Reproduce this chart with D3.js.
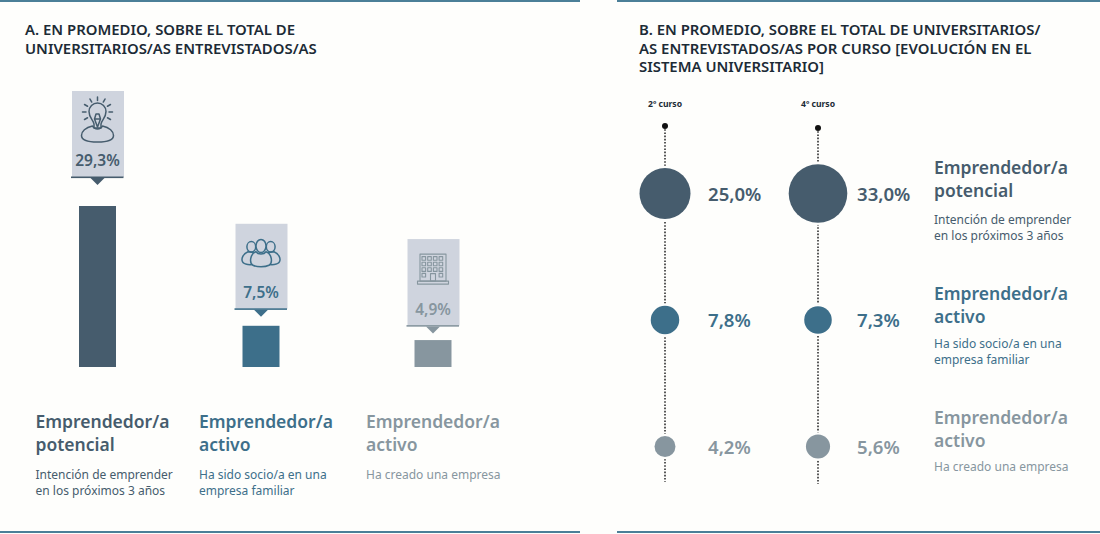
<!DOCTYPE html>
<html><head><meta charset="utf-8">
<script src="https://cdn.jsdelivr.net/npm/d3@7/dist/d3.min.js"></script>
<style>html,body{margin:0;padding:0;background:#fefefc}svg{display:block}text{font-family:"Noto Sans","Open Sans",sans-serif}</style>
</head><body><svg id="c" width="1100" height="534"></svg>
<script>
const categories=["potencial","activoFamiliar","activoEmpresa"];
const names=[["Emprendedor/a","potencial"],["Emprendedor/a","activo"],["Emprendedor/a","activo"]];
const descriptions=[["Intención de emprender","en los próximos 3 años"],["Ha sido socio/a en una","empresa familiar"],["Ha creado una empresa"]];
const totalValues=[29.3,7.5,4.9];
const courses=["2º curso","4º curso"];
const course2Values=[25.0,7.8,4.2];
const course4Values=[33.0,7.3,5.6];
const colors=["#465c6d","#3d6f8a","#87969f"];
const fmt=v=>v.toFixed(1).replace(".",",")+"%";

const svg=d3.select("#c");
const rule="#4b7f98";
const panel="#cfd4de";
[[0,580],[617,1100]].forEach(([a,b])=>{
  svg.append("rect").attr("x",a).attr("y",0).attr("width",b-a).attr("height",2).attr("fill",rule);
  svg.append("rect").attr("x",a).attr("y",531).attr("width",b-a).attr("height",2).attr("fill",rule);
});
function title(x,lines){
  lines.forEach((t,i)=>svg.append("text").attr("x",x).attr("y",35+i*18.5).attr("font-size",14.9).attr("font-weight",600).attr("fill","#1c2b36").text(t));
}
title(25,["A. EN PROMEDIO, SOBRE EL TOTAL DE","UNIVERSITARIOS/AS ENTREVISTADOS/AS"]);
title(639,["B. EN PROMEDIO, SOBRE EL TOTAL DE UNIVERSITARIOS/","AS ENTREVISTADOS/AS POR CURSO [EVOLUCIÓN EN EL","SISTEMA UNIVERSITARIO]"]);

// Panel A
const y=d3.scaleLinear().domain([0,29.3]).range([367,206]);
const x=d3.scalePoint().domain(categories).range([97.5,433]);
const xPos=c=>c===categories[1]?261:x(c);
const bw=37;
function icon(g,i,col){
  const s=g.append("g").attr("fill","none").attr("stroke",col).attr("stroke-width",1.5).attr("stroke-linejoin","round").attr("stroke-linecap","round");
  if(i===0){
    s.append("path").attr("d","M-3.5,18 L-3.5,14 C-4,10 -8.5,8 -8.5,1.5 A8.5,8.5 0 1 1 8.5,1.5 C8.5,8 4,10 3.5,14 L3.5,18 Z");
    s.append("path").attr("d","M-3,9 L-1.5,4 L1.5,4 L3,9 L0,17 Z M-3,9 H3");
    s.append("path").attr("d","M-5,16 C-12,17.5 -16,21.5 -16,25.5 C-16,30 -9,32 0,32 C9,32 16,30 16,25.5 C16,21.5 12,17.5 5,16 C3,20 -3,20 -5,16 Z");
    d3.range(-4,5).forEach(k=>{
      const a=k*30*Math.PI/180;
      const sx=Math.sin(a),cy=-Math.cos(a);
      s.append("line").attr("x1",11.5*sx).attr("y1",2+11.5*cy).attr("x2",15*sx).attr("y2",2+15*cy);
    });
  } else if(i===1){
    [-1,1].forEach(d=>{
      s.append("ellipse").attr("cx",d*9.7).attr("cy",-3).attr("rx",4.4).attr("ry",5.2);
      s.append("path").attr("d",`M${d*13},2 C${d*18},4 ${d*20},9 ${d*18.5},12 C${d*17},15 ${d*10},15.5 ${d*6},14 L${d*6},3 Z`);
    });
    s.append("ellipse").attr("cx",0).attr("cy",-3.8).attr("rx",5).attr("ry",6.6).attr("fill",panel);
    s.append("path").attr("d","M-5,2 C-11,4 -12,13 -8,15.5 C-4,17.5 4,17.5 8,15.5 C12,13 11,4 5,2 C3,5 -3,5 -5,2 Z").attr("fill",panel);
  } else {
    s.attr("stroke-width",1.1);
    s.append("rect").attr("x",-13).attr("y",-13).attr("width",26).attr("height",27);
    s.append("rect").attr("x",-15.5).attr("y",14).attr("width",31).attr("height",3);
    d3.range(4).forEach(r=>d3.range(4).forEach(c=>{
      if(r===3&&(c===1||c===2))return;
      s.append("rect").attr("x",-11+c*5.7).attr("y",-10.5+r*5.6).attr("width",3.6).attr("height",3.6);
    }));
    s.append("rect").attr("x",-2.5).attr("y",6.5).attr("width",5).attr("height",7.5);
  }
}
const calloutH=[86,85,86.5];
categories.forEach((c,i)=>{
  const cx=xPos(c),col=colors[i],top=y(totalValues[i]);
  svg.append("rect").attr("x",cx-bw/2).attr("y",top).attr("width",bw).attr("height",367-top).attr("fill",col);
  const lineY=top-[29,17,14.5][i];
  const h=calloutH[i];
  svg.append("rect").attr("x",cx-25.5).attr("y",lineY-h).attr("width",52).attr("height",h).attr("fill",panel);
  svg.append("rect").attr("x",cx-26.5).attr("y",lineY-.5).attr("width",52.5).attr("height",1.6).attr("fill",col);
  svg.append("path").attr("d",`M${cx-7},${lineY+1} L${cx+7},${lineY+1} L${cx},${lineY+8} Z`).attr("fill",col);
  icon(svg.append("g").attr("transform",`translate(${cx},${lineY-h+[19,26,28][i]})`),i,col);
  svg.append("text").attr("x",cx).attr("y",lineY-11).attr("text-anchor","middle").attr("font-size",15.5).attr("font-weight",600).attr("fill",col).text(fmt(totalValues[i]));
  const lx=[35.5,199,366][i];
  names[i].forEach((t,k)=>svg.append("text").attr("x",lx).attr("y",428+k*22.5).attr("font-size",17.5).attr("font-weight",600).attr("fill",col).text(t));
  descriptions[i].forEach((t,k)=>svg.append("text").attr("x",lx).attr("y",479+k*15.5).attr("font-size",12).attr("fill",col).text(t));
});

// Panel B
const r=d3.scaleSqrt().domain([0,33]).range([0,29.3]);
const yb=d3.scalePoint().domain(categories).range([193.5,446.5]);
const yRow=c=>c===categories[1]?320:yb(c);
[[665,126,482,course2Values,708],[818,128,484,course4Values,857]].forEach(([cx,y0,y1,vals,tx],j)=>{
  svg.append("line").attr("x1",cx).attr("x2",cx).attr("y1",y0).attr("y2",y1).attr("stroke","#222").attr("stroke-width",1.5).attr("stroke-dasharray","1.6,1.6");
  svg.append("circle").attr("cx",cx).attr("cy",y0).attr("r",3).attr("fill","#111");
  svg.append("text").attr("x",cx).attr("y",107).attr("text-anchor","middle").attr("font-size",8.6).attr("font-weight",700).attr("fill","#1c2b36").text(courses[j]);
  categories.forEach((c,i)=>{
    svg.append("circle").attr("cx",cx).attr("cy",yRow(c)).attr("r",r(vals[i])+2.2).attr("fill","#fefefc");
    svg.append("circle").attr("cx",cx).attr("cy",yRow(c)).attr("r",r(vals[i])).attr("fill",colors[i]);
    svg.append("text").attr("x",tx).attr("y",yRow(c)+7).attr("font-size",18.6).attr("font-weight",600).attr("fill",colors[i]).text(fmt(vals[i]));
  });
});
categories.forEach((c,i)=>{
  const y0=[174,300,424][i];
  names[i].forEach((t,k)=>svg.append("text").attr("x",934).attr("y",y0+k*22.5).attr("font-size",17.5).attr("font-weight",600).attr("fill",colors[i]).text(t));
  descriptions[i].forEach((t,k)=>svg.append("text").attr("x",934).attr("y",[224,348,471][i]+k*15.5).attr("font-size",12).attr("fill",colors[i]).text(t));
});
</script></body></html>
